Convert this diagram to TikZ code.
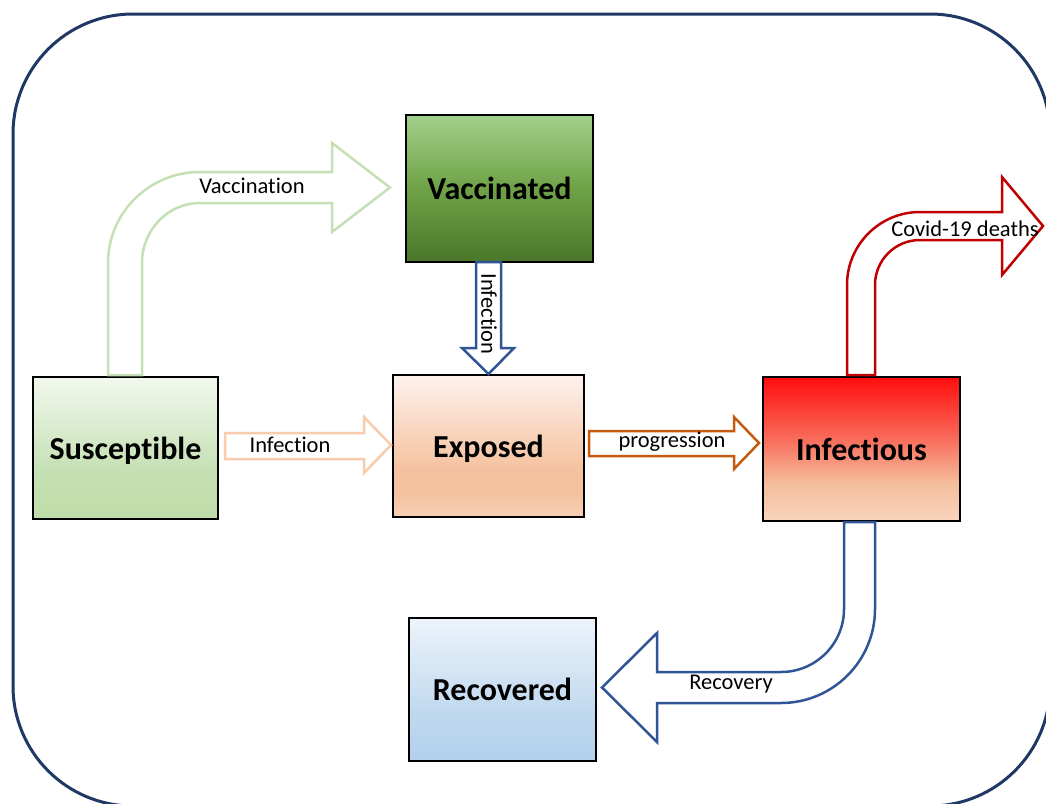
\documentclass[tikz,border=0pt]{standalone}
\usepackage{fontspec}
\setmainfont{Carlito}[Ligatures=NoCommon]
\definecolor{frame}{HTML}{1F3864}
\definecolor{vacline}{HTML}{C5E0B4}
\definecolor{infline}{HTML}{F8CBAD}
\definecolor{blueline}{HTML}{2F5597}
\definecolor{progline}{HTML}{C55A11}
\definecolor{deathline}{HTML}{C00000}
% susceptible
\definecolor{sA}{HTML}{F2F8EE}\definecolor{sB}{HTML}{C5E0B4}\definecolor{sC}{HTML}{BFDCA8}
% vaccinated
\definecolor{vA}{HTML}{A3D08B}\definecolor{vB}{HTML}{6FA247}\definecolor{vC}{HTML}{4A772B}
% exposed
\definecolor{eA}{HTML}{FDF2EE}\definecolor{eB}{HTML}{F5C2A0}\definecolor{eC}{HTML}{F8CFB6}
% infectious
\definecolor{iA}{HTML}{FF0D0D}\definecolor{iB}{HTML}{F96556}\definecolor{iC}{HTML}{F4BE9C}\definecolor{iD}{HTML}{F8D4BE}
% recovered
\definecolor{rA}{HTML}{EDF4FB}\definecolor{rB}{HTML}{BDD7EE}\definecolor{rC}{HTML}{B4D0EC}
\pgfdeclareverticalshading{sussh}{100bp}{color(0bp)=(sC); color(25bp)=(sC); color(42bp)=(sB); color(75bp)=(sA); color(100bp)=(sA)}
\pgfdeclareverticalshading{vacsh}{100bp}{color(0bp)=(vC); color(25bp)=(vC); color(50bp)=(vB); color(75bp)=(vA); color(100bp)=(vA)}
\pgfdeclareverticalshading{expsh}{100bp}{color(0bp)=(eC); color(25bp)=(eC); color(33bp)=(eB); color(42bp)=(eB); color(75bp)=(eA); color(100bp)=(eA)}
\pgfdeclareverticalshading{infsh}{100bp}{color(0bp)=(iD); color(25bp)=(iD); color(38bp)=(iC); color(55bp)=(iB); color(75bp)=(iA); color(100bp)=(iA)}
\pgfdeclareverticalshading{recsh}{100bp}{color(0bp)=(rC); color(25bp)=(rC); color(40bp)=(rB); color(75bp)=(rA); color(100bp)=(rA)}
\tikzset{
  compbox/.style={draw=black, line width=2.5pt, inner sep=0pt, outer sep=0pt,
    text height=28pt, text depth=5.4pt,
    font=\fontsize{32}{38}\selectfont\bfseries},
  blockarrow/.style={line width=2.5pt, fill=white, line join=miter},
  lbl/.style={inner sep=0pt, font=\fontsize{22.5}{26}\selectfont}
}
\begin{document}
\begin{tikzpicture}[x=1pt,y=-1pt]
\useasboundingbox (0,0) rectangle (1046,803);
\clip (0,0) rectangle (1046,803);
% outer frame
\draw[frame, line width=3pt, rounded corners=120pt] (13,14) rectangle (1050,806);

% compartments
\node[compbox, shading=sussh, minimum width=185pt, minimum height=142pt] (sus) at (125.5,448) {Susceptible};
\node[compbox, shading=vacsh, minimum width=187pt, minimum height=147pt] (vac) at (499.5,188.5) {Vaccinated};
\node[compbox, shading=expsh, minimum width=191pt, minimum height=142pt] (exp) at (488.5,446) {Exposed};
\node[compbox, shading=infsh, minimum width=197pt, minimum height=144pt] (inf) at (861.5,449) {Infectious};
\node[compbox, shading=recsh, minimum width=187pt, minimum height=143pt] (rec) at (502.5,689.5) {Recovered};

% Vaccination (bent arrow S -> V)
\draw[blockarrow, draw=vacline]
  (108,375) -- (108,263) .. controls (108,212.7) and (149.2,172) .. (200,172)
  -- (332,172) -- (332,143) -- (390,187.5) -- (332,232) -- (332,203) -- (200,203)
  .. controls (168,203) and (142,229.9) .. (142,263) -- (142,375) -- cycle;
\node[lbl] (lvac) at (252,186) {Vaccination};

% Infection S -> E
\draw[blockarrow, draw=infline]
  (225,433) -- (364,433) -- (364,417) -- (391,445) -- (364,473) -- (364,459) -- (225,459) -- cycle;
\node[lbl] (linf1) at (290,445) {Infection};

% Infection V -> E (vertical)
\draw[blockarrow, draw=blueline]
  (476,262) -- (501,262) -- (501,348) -- (514,348) -- (488.5,374) -- (462,348) -- (476,348) -- cycle;
\node[lbl, rotate=-90] (linf2) at (489,314) {Infection};

% progression E -> I
\draw[blockarrow, draw=progline]
  (589,431) -- (734,431) -- (734,417) -- (759,443) -- (734,469) -- (734,456) -- (589,456) -- cycle;
\node[lbl] (lprog) at (672,442) {progression};

% Covid-19 deaths (bent arrow up/right from I)
\draw[blockarrow, draw=deathline]
  (847,375) -- (847,285) .. controls (847,244.7) and (879.7,212) .. (920,212)
  -- (1002,212) -- (1002,177) -- (1043,226) -- (1002,275) -- (1002,240) -- (920,240)
  .. controls (895.1,240) and (875,260.1) .. (875,285) -- (875,375) -- cycle;
\node[lbl] (ldeath) at (965,229) {Covid-19 deaths};

% Recovery (bent arrow down/left from I to R)
\draw[blockarrow, draw=blueline]
  (844,522) -- (844,609) .. controls (844,643.8) and (815.8,672) .. (781,672)
  -- (657,672) -- (657,633) -- (602,687.5) -- (657,742) -- (657,703) -- (781,703)
  .. controls (832.9,703) and (875,660.9) .. (875,609) -- (875,522) -- cycle;
\node[lbl] (lrec) at (731,684) {Recovery};
\end{tikzpicture}
\end{document}
